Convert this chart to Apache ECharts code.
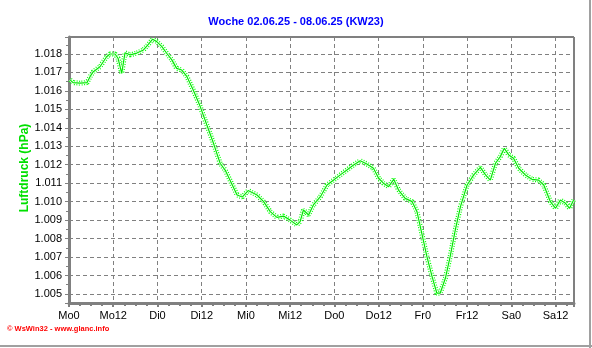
<!DOCTYPE html>
<html>
<head>
<meta charset="utf-8">
<script src="https://cdn.jsdelivr.net/npm/echarts@6/dist/echarts.min.js"></script>
<style>
html,body{margin:0;padding:0;background:#fff;}
#c{width:592px;height:348px;}
</style>
</head>
<body>
<div id="c"></div>
<script>
// hours since Monday 00:00
var hours = [0.3,1.1,3.0,4.9,5.7,6.6,8.4,10.2,11.1,12.5,13.3,14.3,15.2,16.6,18.4,20.2,21.4,22.7,23.8,25.2,26.5,27.9,29.2,30.6,32.0,33.7,35.6,37.4,39.2,41.0,42.4,44.3,45.6,47.0,48.6,51.0,52.8,54.6,56.4,58.2,60.0,61.8,62.7,63.6,65.0,66.3,68.2,70.0,71.8,73.6,75.4,77.2,79.0,80.8,82.6,84.0,85.3,86.7,88.1,89.4,91.2,93.1,94.4,95.8,97.1,98.5,99.8,100.7,102.1,103.4,104.8,106.2,108.0,109.8,111.6,113.0,114.3,115.7,117.0,118.1,119.3,120.6,122.0,123.8,125.6,127.4,128.8,130.6,132.0,133.3,134.7,135.8,136.9];
// air pressure in hPa
var pressure = [1016.6,1016.45,1016.42,1016.45,1016.77,1017.04,1017.31,1017.85,1018.0,1018.0,1017.77,1016.95,1018.07,1017.95,1018.05,1018.22,1018.49,1018.8,1018.67,1018.4,1018.04,1017.68,1017.22,1017.13,1016.77,1016.05,1015.15,1014.15,1013.16,1012.08,1011.7,1010.9,1010.36,1010.25,1010.6,1010.36,1010.0,1009.46,1009.15,1009.22,1009.0,1008.74,1008.92,1009.55,1009.28,1009.82,1010.27,1010.9,1011.17,1011.45,1011.72,1011.99,1012.22,1012.04,1011.81,1011.27,1011.0,1010.81,1011.21,1010.63,1010.18,1010.0,1009.46,1008.2,1007.02,1005.94,1005.04,1005.04,1005.85,1007.02,1008.47,1009.73,1010.9,1011.45,1011.86,1011.45,1011.17,1012.08,1012.44,1012.89,1012.53,1012.35,1011.81,1011.45,1011.21,1011.17,1010.9,1010.0,1009.64,1010.09,1009.91,1009.64,1010.09];
var dayNames = ['Mo','Di','Mi','Do','Fr','Sa','So'];
var titleText = 'Woche 02.06.25 - 08.06.25 (KW23)';
var yName = 'Luftdruck (hPa)';
var credit = '\u00a9 WsWin32 - www.glanc.info';

var pts = hours.map(function(h,i){return [h, pressure[i]];});

var chart = echarts.init(document.getElementById('c'), null, {renderer:'canvas'});
chart.setOption({
  animation:false,
  backgroundColor:'#fff',
  title:{text:titleText,left:'center',top:11,textStyle:{color:'#0000ff',fontFamily:'Liberation Sans, Arial',fontSize:11,fontWeight:'bold'}},
  grid:{left:69,right:18,top:37,bottom:45,show:true,borderColor:'#000',borderWidth:1,backgroundColor:'#fff'},
  graphic:[
    {type:'text',left:7,top:325,style:{text:credit,fill:'#ff0000',font:'bold 7.5px Liberation Sans, Arial'}},
    {type:'text',x:25,y:168,rotation:Math.PI/2,style:{text:yName,fill:'#00e000',font:'bold 12px Liberation Sans, Arial',align:'center',verticalAlign:'middle'}},
    {type:'rect',shape:{x:589,y:0,width:2,height:348},style:{fill:'#a0a0a0'}},
    {type:'rect',shape:{x:0,y:345,width:592,height:2},style:{fill:'#a0a0a0'}}
  ],
  xAxis:{type:'value',min:0,max:137,interval:12,
    axisLine:{show:true,onZero:false,lineStyle:{color:'#808080',width:3}},
    axisTick:{show:true,length:4,lineStyle:{color:'#808080',width:2}},
    minorTick:{show:true,splitNumber:4,length:3,lineStyle:{color:'#808080',width:2}},
    splitLine:{show:true,lineStyle:{color:'#808080',type:[4,3],width:1}},
    axisLabel:{color:'#000',fontFamily:'Liberation Sans, Arial',fontSize:11,margin:7,showMaxLabel:false,
      formatter:function(v){ if(v%12!==0) return ''; var d=Math.floor(v/24); return dayNames[d]+(v%24);} }
  },
  yAxis:{type:'value',min:1004.51,max:1018.92,splitNumber:14,
    axisLine:{show:true,lineStyle:{color:'#808080',width:3}},
    axisTick:{show:true,length:4,lineStyle:{color:'#808080',width:1}},
    minorTick:{show:true,splitNumber:2,length:3,lineStyle:{color:'#808080',width:1}},
    splitLine:{show:true,lineStyle:{color:'#808080',type:[4,3],width:1}},
    axisLabel:{color:'#000',fontFamily:'Liberation Sans, Arial',fontSize:11,margin:7,showMinLabel:false,showMaxLabel:false,
      formatter:function(v){ return (v/1000).toFixed(3);} }
  },
  series:[
    {type:'line',data:pts,showSymbol:false,lineStyle:{color:'#00ff00',width:5,type:[1,1.5]},z:2},
    {type:'line',data:pts,showSymbol:false,lineStyle:{color:'#ffffff',width:2.5},z:3},
    {type:'line',data:pts,showSymbol:false,lineStyle:{color:'#00e800',width:1.2},z:4}
  ]
});
</script>
</body>
</html>
